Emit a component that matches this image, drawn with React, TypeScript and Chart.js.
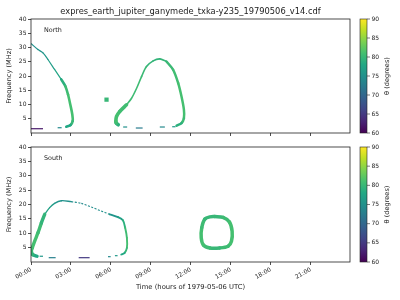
import React, { useEffect, useRef } from 'react';
import { Chart, registerables } from 'chart.js';

Chart.register(...registerables);

const FONT = 'DejaVu Sans';
const FIG_TITLE = 'expres_earth_jupiter_ganymede_txka-y235_19790506_v14.cdf';
const X_LABEL = 'Time (hours of 1979-05-06 UTC)';
const Y_LABEL = 'Frequency (MHz)';
const CB_LABEL = 'θ (degrees)';
const PANEL_NAMES = ['North', 'South'];

const xTickHours = [0, 3, 6, 9, 12, 15, 18, 21];
const xTickLabels = ['00:00', '03:00', '06:00', '09:00', '12:00', '15:00', '18:00', '21:00'];
const yTickValues = [5, 10, 15, 20, 25, 30, 35, 40];
const cbTickValues = [60, 65, 70, 75, 80, 85, 90];
const VIRIDIS = ['#440154', '#482475', '#414487', '#355f8d', '#2a788e', '#21918c', '#22a884', '#44bf70', '#7ad151', '#bddf26', '#fde725'];

// ---------- North panel (time in hours, frequency in MHz, theta in degrees) ----------
const nArcTopT = [0.02, 0.52, 0.9, 1.27, 1.77, 2.27];
const nArcTopF = [31.3, 29.3, 28.1, 25.8, 22.3, 18.8];
const nArcTopTh = [75, 75, 75.5, 76, 77, 78];

const nArcLowT = [2.27, 2.58, 2.78, 2.95, 3.1, 3.13, 2.97, 2.65];
const nArcLowF = [18.8, 16.4, 13.5, 10.0, 6.5, 4.2, 2.8, 2.2];
const nArcLowTh = [78, 80, 81, 81, 81, 81, 79, 77];

const nBlobT = [5.67];
const nBlobF = [11.7];
const nBlobTh = [80];

const nLoopLeftT = [6.55, 6.4, 6.37, 6.42, 6.67, 7.17];
const nLoopLeftF = [2.9, 3.5, 4.1, 5.8, 7.6, 9.9];
const nLoopLeftTh = [78, 80, 81, 81, 81, 80.5];

const nLoopTopT = [7.17, 7.55, 7.93, 8.3, 8.67, 9.17, 9.67, 10.17];
const nLoopTopF = [9.9, 12.2, 15.7, 19.8, 23.3, 25.3, 26.0, 25.1];
const nLoopTopTh = [80.5, 80.5, 80.5, 80.5, 80, 79.5, 79.5, 80];

const nLoopRightT = [10.17, 10.67, 11.05, 11.3, 11.48, 11.48, 11.3, 10.93];
const nLoopRightF = [25.1, 22.2, 17.5, 12.8, 8.2, 5.2, 3.5, 2.6];
const nLoopRightTh = [80, 80.5, 81, 81, 81, 81, 80, 78];

const nDashStart = [0.0, 2.0, 6.92, 7.87, 9.67, 10.6];
const nDashEnd = [0.9, 2.3, 7.22, 8.38, 10.05, 10.85];
const nDashF = [1.5, 1.85, 2.1, 1.75, 2.1, 2.2];
const nDashTh = [62, 74, 75, 72.5, 74, 76];

// ---------- South panel ----------
const sArcLeftT = [0.45, 0.15, 0.03, 0.1, 0.27, 0.52, 0.78, 1.03];
const sArcLeftF = [2.0, 2.5, 3.7, 5.0, 7.2, 10.1, 13.6, 16.6];
const sArcLeftTh = [77, 79, 80, 81, 81, 81, 80, 79];

const sArcTopT = [1.03, 1.4, 1.77, 2.28, 3.03];
const sArcTopF = [16.6, 18.9, 20.4, 21.3, 21.0];
const sArcTopTh = [78, 77, 76, 75, 75];

const sArcDotT = [3.03, 3.78, 4.53, 5.28, 5.9];
const sArcDotF = [21.0, 20.4, 19.1, 17.7, 16.6];
const sArcDotTh = [75, 74, 74, 75, 75];

const sArcRightT = [5.9, 6.53, 6.9, 7.07, 7.2, 7.2, 7.03, 6.78];
const sArcRightF = [16.6, 15.6, 14.5, 11.9, 8.4, 4.9, 3.2, 2.6];
const sArcRightTh = [75, 76, 78, 80, 81, 81, 79, 77];

const sDashStart = [0.65, 1.33, 3.58, 5.78, 6.3];
const sDashEnd = [0.9, 1.85, 4.4, 5.98, 6.5];
const sDashF = [2.0, 1.5, 1.5, 1.85, 2.2];
const sDashTh = [76, 73, 65, 74, 76];

const sOvalT = [13.8, 14.42, 14.9, 15.1, 15.05, 14.8, 14.17, 13.43, 12.95, 12.78, 12.82, 13.05, 13.43, 13.8];
const sOvalF = [15.8, 15.5, 13.9, 10.7, 7.2, 5.5, 4.9, 4.9, 5.9, 8.4, 11.9, 14.9, 15.7, 15.8];
const sOvalTh = [80, 80, 81, 81, 81, 81, 80, 80, 81, 81, 81, 80, 80, 80];

// ---------- helpers ----------
function hexToRgb(h: string) {
  return [parseInt(h.slice(1, 3), 16), parseInt(h.slice(3, 5), 16), parseInt(h.slice(5, 7), 16)];
}
function viridis(theta: number) {
  let u = (theta - 60) / 30;
  u = Math.max(0, Math.min(1, u));
  const pos = u * (VIRIDIS.length - 1);
  const i = Math.min(VIRIDIS.length - 2, Math.floor(pos));
  const fr = pos - i;
  const a = hexToRgb(VIRIDIS[i]);
  const b = hexToRgb(VIRIDIS[i + 1]);
  const c = a.map((v, k) => Math.round(v + (b[k] - v) * fr));
  return `rgb(${c[0]},${c[1]},${c[2]})`;
}

function curve(t: number[], f: number[], th: number[], width: number, dash: number[] = []) {
  return {
    data: t.map((x, i) => ({ x, y: f[i] })),
    showLine: true,
    pointRadius: 0,
    borderWidth: width,
    borderDash: dash,
    tension: 0.3,
    borderCapStyle: dash.length ? 'butt' : 'round',
    borderJoinStyle: 'round',
    borderColor: viridis(th[0]),
    segment: {
      borderColor: (ctx: any) => viridis((th[ctx.p0DataIndex] + th[ctx.p1DataIndex]) / 2),
    },
  };
}

function dashes(t0: number[], t1: number[], f: number[], th: number[]) {
  return t0.map((a, i) => ({
    data: [{ x: a, y: f[i] }, { x: t1[i], y: f[i] }],
    showLine: true,
    pointRadius: 0,
    borderWidth: 1.2,
    borderCapStyle: 'butt',
    borderColor: viridis(th[i]),
  }));
}

function blobs(t: number[], f: number[], th: number[]) {
  return t.map((x, i) => ({
    data: [{ x, y: f[i] }],
    showLine: false,
    pointRadius: 3,
    pointStyle: 'rect',
    pointBorderWidth: 0,
    pointBackgroundColor: viridis(th[i]),
    borderWidth: 0,
  }));
}

function northDatasets() {
  return [
    curve(nArcTopT, nArcTopF, nArcTopTh, 1.2),
    curve(nArcLowT, nArcLowF, nArcLowTh, 2.6),
    curve(nLoopLeftT, nLoopLeftF, nLoopLeftTh, 3.6),
    curve(nLoopTopT, nLoopTopF, nLoopTopTh, 1.6),
    curve(nLoopRightT, nLoopRightF, nLoopRightTh, 2.5),
    ...dashes(nDashStart, nDashEnd, nDashF, nDashTh),
    ...blobs(nBlobT, nBlobF, nBlobTh),
  ];
}

function southDatasets() {
  return [
    curve(sArcLeftT, sArcLeftF, sArcLeftTh, 3.4),
    curve(sArcTopT, sArcTopF, sArcTopTh, 1.3),
    curve(sArcDotT, sArcDotF, sArcDotTh, 1.1, [2, 1.5]),
    curve(sArcRightT, sArcRightF, sArcRightTh, 1.9),
    curve(sOvalT, sOvalF, sOvalTh, 3.5),
    ...dashes(sDashStart, sDashEnd, sDashF, sDashTh),
  ];
}

const AXIS_COLOR = '#222';

function decorPlugin(panel: number) {
  return {
    id: 'decor' + panel,
    afterDraw(chart: any) {
      const ctx = chart.ctx as CanvasRenderingContext2D;
      const { left, right, top, bottom } = chart.chartArea;
      ctx.save();
      ctx.strokeStyle = AXIS_COLOR;
      ctx.lineWidth = 0.8;
      ctx.strokeRect(left, top, right - left, bottom - top);
      ctx.fillStyle = AXIS_COLOR;
      ctx.font = `6.4px "${FONT}"`;
      ctx.textAlign = 'left';
      ctx.textBaseline = 'alphabetic';
      ctx.fillText(PANEL_NAMES[panel], left + 13, top + 13);
      const mid = (top + bottom) / 2;
      ctx.save();
      ctx.translate(9.5, mid);
      ctx.rotate(-Math.PI / 2);
      ctx.font = `6.6px "${FONT}"`;
      ctx.textAlign = 'center';
      ctx.textBaseline = 'middle';
      ctx.fillText(Y_LABEL, 0, 0);
      ctx.restore();
      const cbL = 360, cbR = 367;
      const grad = ctx.createLinearGradient(0, bottom, 0, top);
      VIRIDIS.forEach((c, i) => grad.addColorStop(i / (VIRIDIS.length - 1), c));
      ctx.fillStyle = grad;
      ctx.fillRect(cbL, top, cbR - cbL, bottom - top);
      ctx.strokeStyle = AXIS_COLOR;
      ctx.lineWidth = 0.6;
      ctx.strokeRect(cbL, top, cbR - cbL, bottom - top);
      ctx.fillStyle = AXIS_COLOR;
      ctx.font = `6px "${FONT}"`;
      ctx.textAlign = 'left';
      ctx.textBaseline = 'middle';
      cbTickValues.forEach((v) => {
        const y = bottom - ((v - 60) / 30) * (bottom - top);
        ctx.beginPath();
        ctx.moveTo(cbR, y);
        ctx.lineTo(cbR + 3, y);
        ctx.stroke();
        ctx.fillText(String(v), cbR + 4.5, y);
      });
      ctx.save();
      ctx.translate(387, mid);
      ctx.rotate(-Math.PI / 2);
      ctx.font = `6.6px "${FONT}"`;
      ctx.textAlign = 'center';
      ctx.textBaseline = 'middle';
      ctx.fillText(CB_LABEL, 0, 0);
      ctx.restore();
      if (panel === 0) {
        ctx.font = `8.3px "${FONT}"`;
        ctx.textAlign = 'center';
        ctx.textBaseline = 'alphabetic';
        ctx.fillText(FIG_TITLE, (left + right) / 2, 13.5);
      } else {
        ctx.font = `6.8px "${FONT}"`;
        ctx.textAlign = 'center';
        ctx.textBaseline = 'alphabetic';
        ctx.fillText(X_LABEL, (left + right) / 2, 289);
      }
      ctx.restore();
    },
  };
}

function makeChart(canvas: HTMLCanvasElement, panel: number) {
  const isBottom = panel === 1;
  const areaTop = isBottom ? 147 : 19;
  const areaBottom = isBottom ? 262 : 133;
  const xAxisH = isBottom ? 38 : 10;
  const gridOpts = {
    display: true,
    drawOnChartArea: false,
    drawTicks: true,
    tickLength: 3,
    color: AXIS_COLOR,
    lineWidth: 0.8,
  };
  return new Chart(canvas, {
    type: 'scatter',
    data: { datasets: (isBottom ? southDatasets() : northDatasets()) as any },
    plugins: [decorPlugin(panel)],
    options: {
      responsive: false,
      animation: false,
      events: [],
      layout: { padding: { left: 0, right: 50, top: areaTop, bottom: 300 - areaBottom - xAxisH } },
      plugins: { legend: { display: false }, tooltip: { enabled: false }, title: { display: false } },
      scales: {
        x: {
          type: 'linear',
          min: 0,
          max: 23.95,
          afterBuildTicks: (s: any) => {
            s.ticks = xTickHours.map((v) => ({ value: v }));
          },
          afterFit: (s: any) => {
            s.height = xAxisH;
          },
          grid: gridOpts,
          border: { display: false },
          ticks: {
            display: isBottom,
            autoSkip: false,
            minRotation: 30,
            maxRotation: 30,
            padding: 1,
            color: AXIS_COLOR,
            font: { family: FONT, size: 6 },
            callback: (_v: any, i: number) => xTickLabels[i],
          },
        },
        y: {
          type: 'linear',
          min: 0,
          max: 40,
          afterBuildTicks: (s: any) => {
            s.ticks = yTickValues.map((v) => ({ value: v }));
          },
          afterFit: (s: any) => {
            s.width = 31;
          },
          grid: gridOpts,
          border: { display: false },
          ticks: {
            padding: 1.5,
            color: AXIS_COLOR,
            font: { family: FONT, size: 6 },
            callback: (v: any) => String(v),
          },
        },
      },
    } as any,
  });
}

export default function App() {
  const topRef = useRef<HTMLCanvasElement>(null);
  const botRef = useRef<HTMLCanvasElement>(null);
  useEffect(() => {
    const c1 = makeChart(topRef.current!, 0);
    const c2 = makeChart(botRef.current!, 1);
    return () => {
      c1.destroy();
      c2.destroy();
    };
  }, []);
  const cs: React.CSSProperties = { position: 'absolute', left: 0, top: 0, width: 400, height: 300 };
  return (
    <div style={{ position: 'absolute', left: 0, top: 0, width: 400, height: 300, background: '#fff' }}>
      <canvas ref={topRef} width={400} height={300} style={cs} />
      <canvas ref={botRef} width={400} height={300} style={cs} />
    </div>
  );
}
